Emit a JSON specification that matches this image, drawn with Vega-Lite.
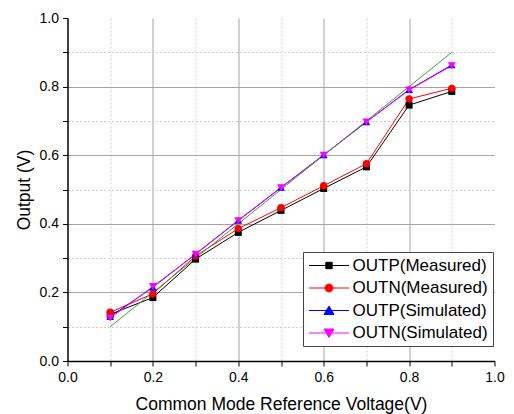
{
  "$schema": "https://vega.github.io/schema/vega-lite/v6.json",
  "width": 427,
  "height": 343,
  "autosize": "none",
  "padding": {"left": 67.5, "top": 18, "right": 19.5, "bottom": 53},
  "background": "white",
  "config": {"view": {"stroke": null}, "font": "Liberation Sans"},
  "data": {"values": [
    {"v": 0.1, "out": 0.136, "s": "OUTP(Measured)"},
    {"v": 0.2, "out": 0.185, "s": "OUTP(Measured)"},
    {"v": 0.3, "out": 0.297, "s": "OUTP(Measured)"},
    {"v": 0.4, "out": 0.375, "s": "OUTP(Measured)"},
    {"v": 0.5, "out": 0.439, "s": "OUTP(Measured)"},
    {"v": 0.6, "out": 0.503, "s": "OUTP(Measured)"},
    {"v": 0.7, "out": 0.566, "s": "OUTP(Measured)"},
    {"v": 0.8, "out": 0.746, "s": "OUTP(Measured)"},
    {"v": 0.9, "out": 0.786, "s": "OUTP(Measured)"},
    {"v": 0.1, "out": 0.142, "s": "OUTN(Measured)"},
    {"v": 0.2, "out": 0.196, "s": "OUTN(Measured)"},
    {"v": 0.3, "out": 0.306, "s": "OUTN(Measured)"},
    {"v": 0.4, "out": 0.386, "s": "OUTN(Measured)"},
    {"v": 0.5, "out": 0.447, "s": "OUTN(Measured)"},
    {"v": 0.6, "out": 0.511, "s": "OUTN(Measured)"},
    {"v": 0.7, "out": 0.575, "s": "OUTN(Measured)"},
    {"v": 0.8, "out": 0.764, "s": "OUTN(Measured)"},
    {"v": 0.9, "out": 0.795, "s": "OUTN(Measured)"},
    {"v": 0.1, "out": 0.129, "s": "OUTP(Simulated)"},
    {"v": 0.2, "out": 0.215, "s": "OUTP(Simulated)"},
    {"v": 0.3, "out": 0.312, "s": "OUTP(Simulated)"},
    {"v": 0.4, "out": 0.41, "s": "OUTP(Simulated)"},
    {"v": 0.5, "out": 0.506, "s": "OUTP(Simulated)"},
    {"v": 0.6, "out": 0.601, "s": "OUTP(Simulated)"},
    {"v": 0.7, "out": 0.697, "s": "OUTP(Simulated)"},
    {"v": 0.8, "out": 0.791, "s": "OUTP(Simulated)"},
    {"v": 0.9, "out": 0.863, "s": "OUTP(Simulated)"},
    {"v": 0.1, "out": 0.125, "s": "OUTN(Simulated)"},
    {"v": 0.2, "out": 0.217, "s": "OUTN(Simulated)"},
    {"v": 0.3, "out": 0.311, "s": "OUTN(Simulated)"},
    {"v": 0.4, "out": 0.409, "s": "OUTN(Simulated)"},
    {"v": 0.5, "out": 0.505, "s": "OUTN(Simulated)"},
    {"v": 0.6, "out": 0.6, "s": "OUTN(Simulated)"},
    {"v": 0.7, "out": 0.697, "s": "OUTN(Simulated)"},
    {"v": 0.8, "out": 0.79, "s": "OUTN(Simulated)"},
    {"v": 0.9, "out": 0.861, "s": "OUTN(Simulated)"},
    {"v": 0.1, "out": 0.1, "s": "Ideal"},
    {"v": 0.9, "out": 0.9, "s": "Ideal"}
  ]},
  "encoding": {
    "x": {
      "field": "v", "type": "quantitative",
      "scale": {"domain": [0, 1], "nice": false, "zero": false},
      "title": "Common Mode Reference Voltage(V)",
      "axis": {
        "values": [0, 0.1, 0.2, 0.3, 0.4, 0.5, 0.6, 0.7, 0.8, 0.9, 1.0],
        "labelExpr": "round(datum.value*10)%2==0 ? format(datum.value,'.1f') : ''",
        "grid": true,
        "gridColor": {"condition": {"test": "round(datum.value*10)%2==1", "value": "#cfcfcf"}, "value": "#a4a4a4"},
        "gridDash": {"condition": {"test": "round(datum.value*10)%2==1", "value": [2, 2]}, "value": []},
        "gridOpacity": {"condition": {"test": "datum.value > 0.95 || datum.value < 0.05", "value": 0}, "value": 1},
        "gridWidth": 1,
        "domainColor": "#000", "domainWidth": 1.5,
        "tickColor": "#000", "tickSize": 5, "tickWidth": 1,
        "labelFontSize": 14, "labelColor": "#000", "labelPadding": 4, "labelFlush": false,
        "titleFontSize": 17.5, "titleFontWeight": "normal", "titleColor": "#000", "titlePadding": 11
      }
    },
    "y": {
      "field": "out", "type": "quantitative",
      "scale": {"domain": [0, 1], "nice": false},
      "title": "Output (V)",
      "axis": {
        "values": [0, 0.1, 0.2, 0.3, 0.4, 0.5, 0.6, 0.7, 0.8, 0.9, 1.0],
        "labelExpr": "round(datum.value*10)%2==0 ? format(datum.value,'.1f') : ''",
        "grid": true,
        "gridColor": {"condition": {"test": "round(datum.value*10)%2==1", "value": "#cfcfcf"}, "value": "#a4a4a4"},
        "gridDash": {"condition": {"test": "round(datum.value*10)%2==1", "value": [2, 2]}, "value": []},
        "gridOpacity": {"condition": {"test": "datum.value > 0.95 || datum.value < 0.05", "value": 0}, "value": 1},
        "gridWidth": 1,
        "domainColor": "#000", "domainWidth": 1.5,
        "tickColor": "#000", "tickSize": 5, "tickWidth": 1,
        "labelFontSize": 14, "labelColor": "#000", "labelPadding": 4, "labelFlush": false,
        "titleFontSize": 17.5, "titleFontWeight": "normal", "titleColor": "#000", "titlePadding": 6
      }
    }
  },
  "layer": [
    {
      "transform": [{"filter": "datum.s != 'Ideal'"}],
      "mark": {"type": "line", "strokeWidth": 1},
      "encoding": {
        "color": {"field": "s", "type": "nominal", "legend": null,
          "scale": {"domain": ["OUTP(Measured)", "OUTN(Measured)", "OUTP(Simulated)", "OUTN(Simulated)"], "range": ["#000000", "#ff0000", "#0000ff", "#ff00ff"]}}
      }
    },
    {
      "transform": [{"filter": "datum.s == 'Ideal'"}],
      "mark": {"type": "line", "strokeWidth": 1, "color": "#3f9f3f"},
      "encoding": {}
    },
    {
      "transform": [{"filter": "datum.s != 'Ideal'"}],
      "mark": {"type": "point", "filled": true, "opacity": 1},
      "encoding": {
        "color": {"field": "s", "type": "nominal", "legend": null,
          "scale": {"domain": ["OUTP(Measured)", "OUTN(Measured)", "OUTP(Simulated)", "OUTN(Simulated)"], "range": ["#000000", "#ff0000", "#0000ff", "#ff00ff"]}},
        "shape": {"field": "s", "type": "nominal", "legend": null,
          "scale": {"domain": ["OUTP(Measured)", "OUTN(Measured)", "OUTP(Simulated)", "OUTN(Simulated)"], "range": ["square", "circle", "triangle-up", "triangle-down"]}},
        "size": {"field": "s", "type": "nominal", "legend": null,
          "scale": {"domain": ["OUTP(Measured)", "OUTN(Measured)", "OUTP(Simulated)", "OUTN(Simulated)"], "range": [49, 64, 100, 100]}}
      }
    },
    {
      "transform": [{"filter": "false"}],
      "mark": {"type": "point", "filled": true, "opacity": 1, "size": 64, "strokeWidth": 1},
      "encoding": {
        "color": {"field": "s", "type": "nominal",
          "scale": {"domain": ["OUTP(Measured)", "OUTN(Measured)", "OUTP(Simulated)", "OUTN(Simulated)"], "range": ["#000000", "#ff0000", "#0000ff", "#ff00ff"]},
          "legend": {"title": null, "orient": "none", "legendX": 235.5, "legendY": 234, "strokeColor": "#444444", "fillColor": "#ffffff", "padding": 5, "labelFontSize": 17, "labelFont": "Liberation Sans", "labelColor": "#000", "rowPadding": 4.5, "symbolOffset": 12.5, "labelOffset": 15, "symbolStrokeWidth": 1, "symbolSize": 64, "labelLimit": 300}},
        "stroke": {"field": "s", "type": "nominal",
          "scale": {"domain": ["OUTP(Measured)", "OUTN(Measured)", "OUTP(Simulated)", "OUTN(Simulated)"], "range": ["#000000", "#ff0000", "#0000ff", "#ff00ff"]},
          "legend": {"title": null, "orient": "none", "legendX": 235.5, "legendY": 234, "strokeColor": "#444444", "fillColor": "#ffffff", "padding": 5, "labelFontSize": 17, "labelFont": "Liberation Sans", "labelColor": "#000", "rowPadding": 4.5, "symbolOffset": 12.5, "labelOffset": 15, "symbolStrokeWidth": 1, "symbolSize": 64, "labelLimit": 300}},
        "shape": {"field": "s", "type": "nominal",
          "scale": {"domain": ["OUTP(Measured)", "OUTN(Measured)", "OUTP(Simulated)", "OUTN(Simulated)"], "range": ["M-5,0H5M-0.8,-0.8H0.8V0.8H-0.8Z", "M-5,0H5M1,0A1,1,0,1,1,-1,0A1,1,0,1,1,1,0Z", "M-5,0H5M0,-1.1L1.25,1H-1.25Z", "M-5,0H5M0,1.1L1.25,-1H-1.25Z"]},
          "legend": {"title": null, "orient": "none", "legendX": 235.5, "legendY": 234, "strokeColor": "#444444", "fillColor": "#ffffff", "padding": 5, "labelFontSize": 17, "labelFont": "Liberation Sans", "labelColor": "#000", "rowPadding": 4.5, "symbolOffset": 12.5, "labelOffset": 15, "symbolStrokeWidth": 1, "symbolSize": 64, "labelLimit": 300}}
      }
    }
  ],
  "resolve": {"scale": {"color": "independent", "shape": "independent", "stroke": "independent", "size": "independent"}}
}
